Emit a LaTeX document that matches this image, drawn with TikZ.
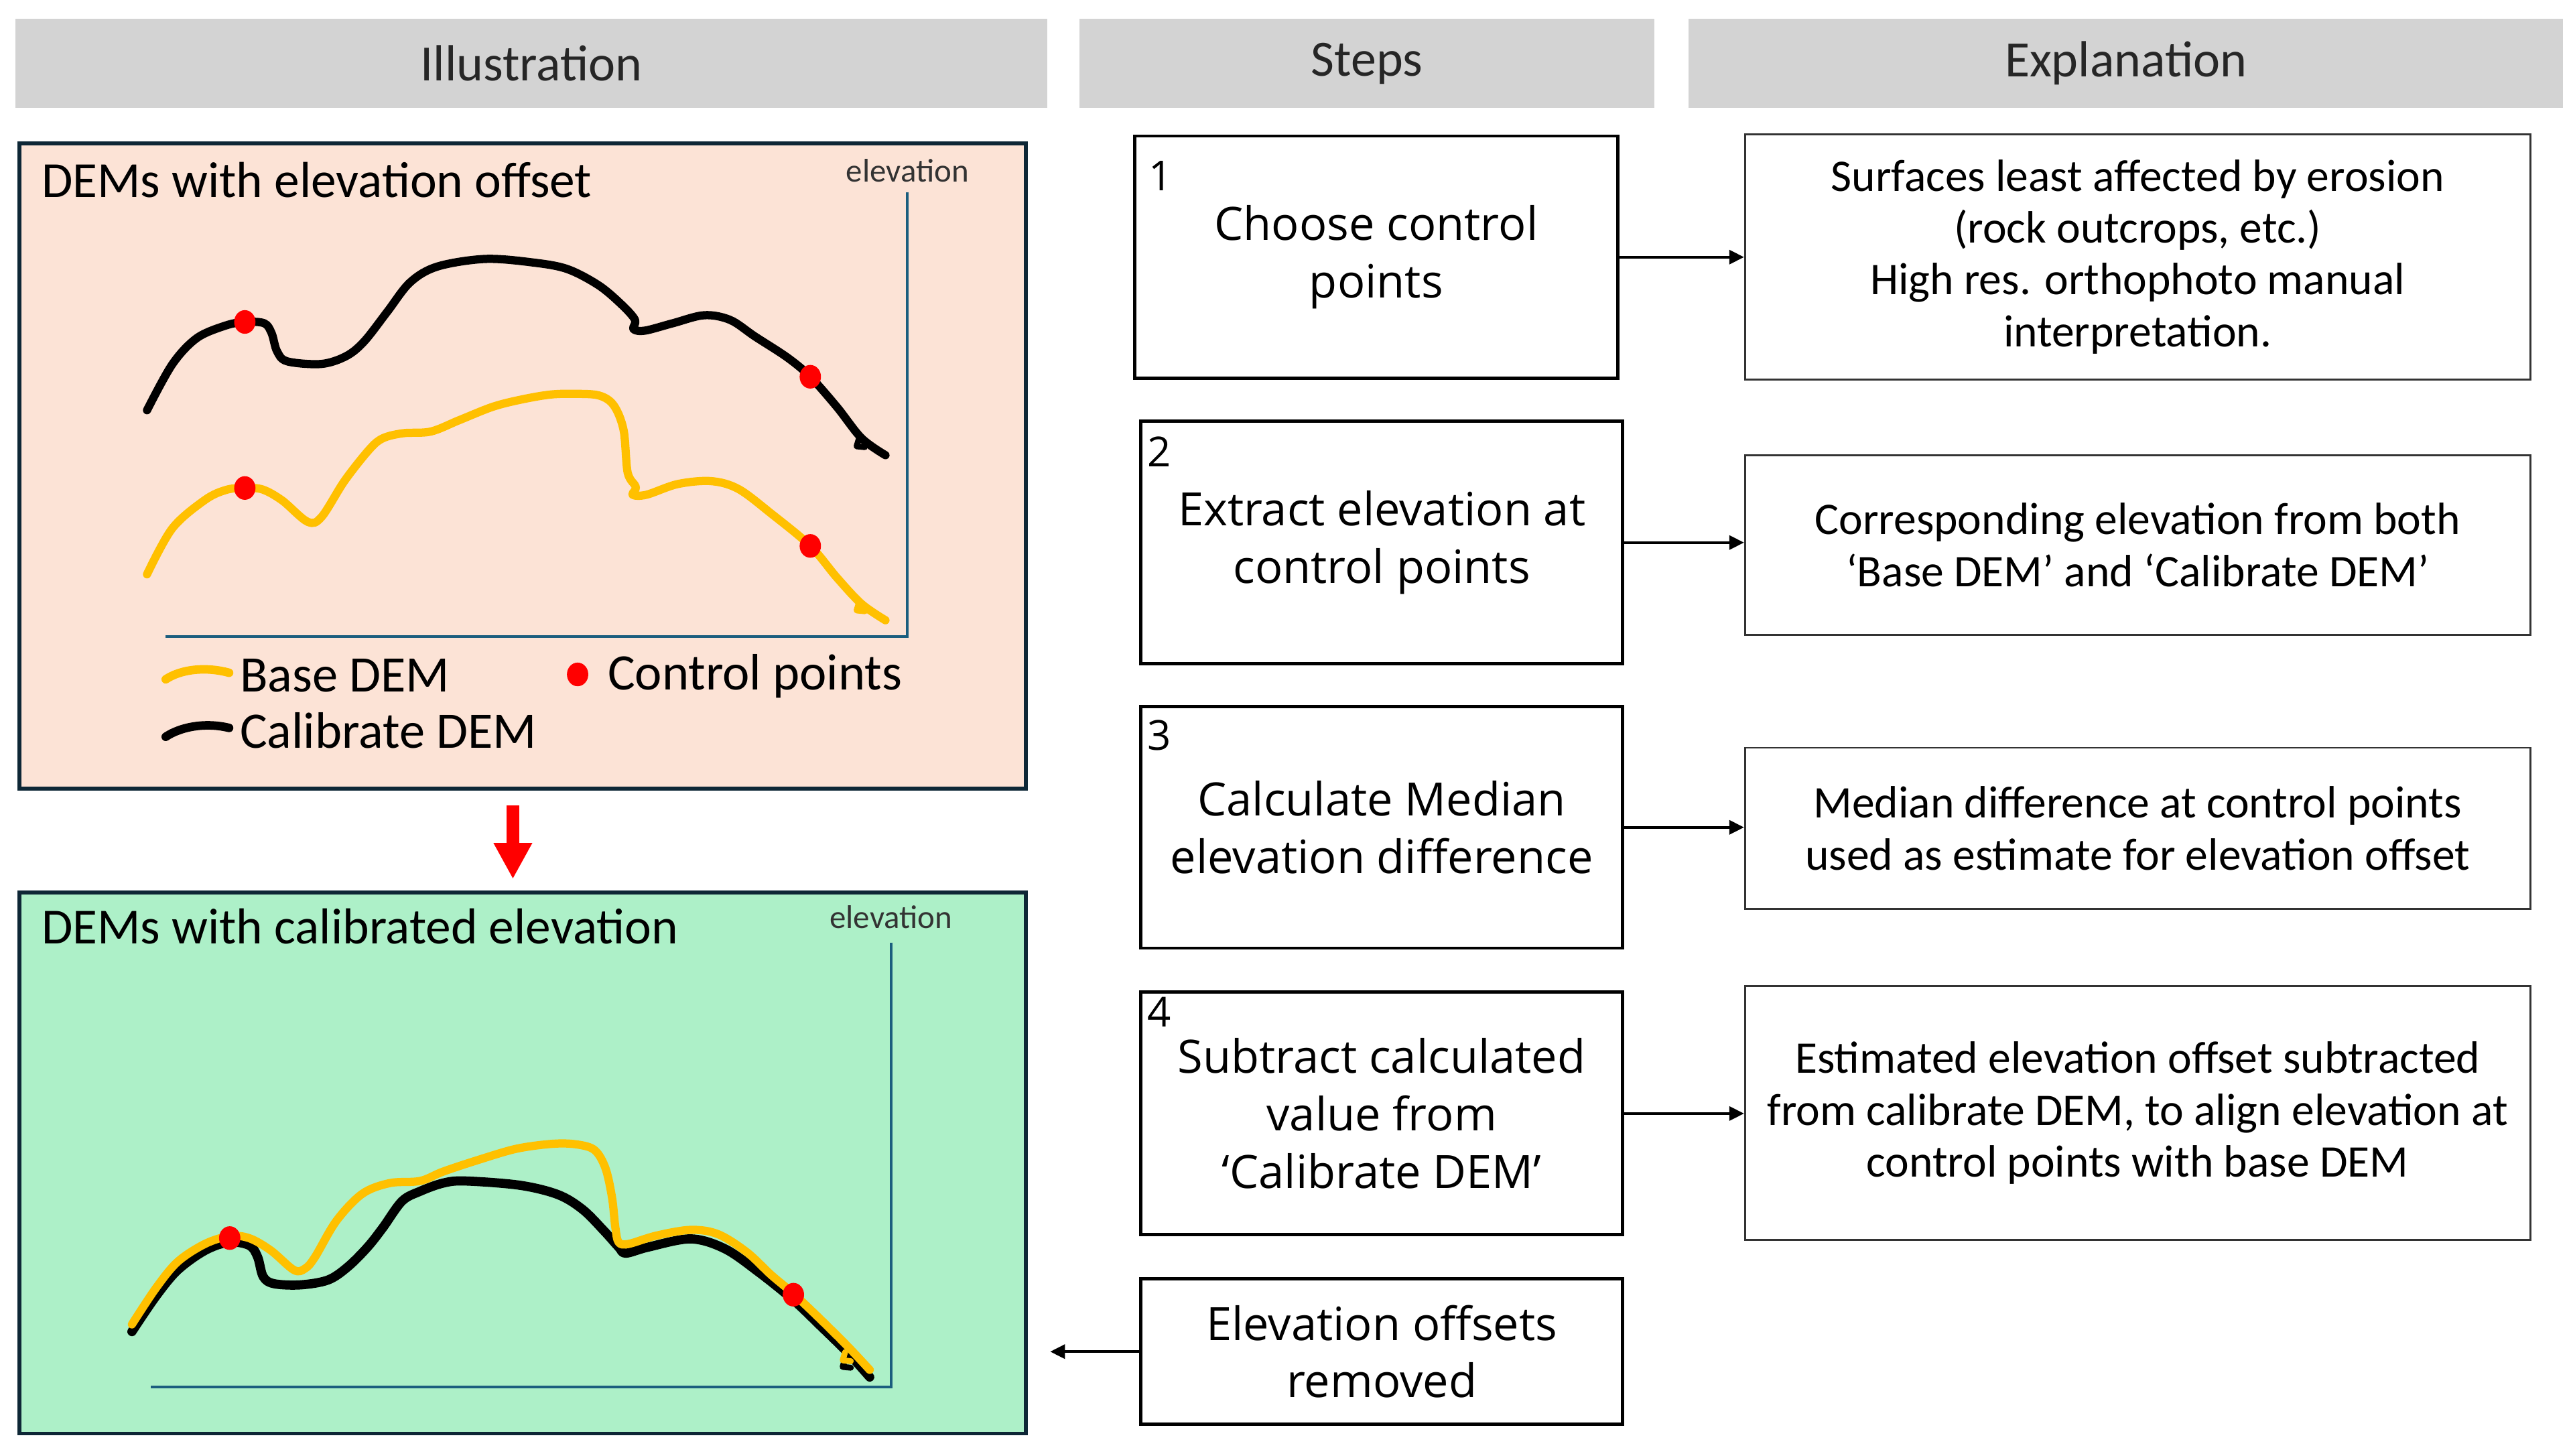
\documentclass[tikz,border=0pt]{standalone}
\usepackage{fontspec}
\setmainfont{Carlito}
\newfontfamily\stepfont{Open Sans}
\usetikzlibrary{arrows.meta}
\definecolor{hdrgray}{HTML}{D3D3D3}
\definecolor{peach}{HTML}{FCE3D6}
\definecolor{mint}{HTML}{ADF0C8}
\definecolor{panelline}{HTML}{0E2736}
\definecolor{axisblue}{HTML}{1B5E7E}
\definecolor{demyellow}{HTML}{FFC000}
\definecolor{dotred}{HTML}{FF0000}
\begin{document}
\begin{tikzpicture}[x=0.5pt,y=-0.5pt,
  header/.style={fill=hdrgray, draw=none, minimum height=27pt, inner sep=0pt, text=black!85, font=\fontsize{15.5}{18}\selectfont},
  panel/.style={draw=panelline, line width=1.2pt, minimum width=306.65pt, inner sep=0pt},
  stepbox/.style={draw=black, line width=1pt, fill=white, minimum width=146.85pt, inner sep=0pt, align=center, font=\stepfont\fontsize{14}{17.5}\selectfont},
  explbox/.style={draw=black!80, line width=0.6pt, minimum width=239.25pt, inner sep=0pt, align=center, font=\fontsize{13.8}{15.8}\selectfont},
  conn/.style={line width=0.8pt, -{Triangle[length=4.5pt,width=4.3pt]}},
  redarrow/.style={draw=dotred, line width=4pt, -{Triangle[length=11pt,width=11pt]}},
  steplabel/.style={font=\stepfont\fontsize{12.6}{14}\selectfont, inner sep=0pt, anchor=base west},
  titletext/.style={font=\fontsize{15.4}{18}\selectfont, inner sep=0pt, anchor=base west},
  axislabel/.style={font=\fontsize{10}{12}\selectfont, text=black!80, inner sep=0pt, anchor=base},
  legendtext/.style={font=\fontsize{15.6}{18}\selectfont, inner sep=0pt, anchor=base west},
  axisline/.style={draw=axisblue, line width=0.8pt},
  calibdem/.style={draw=black, line width=2.5pt, line cap=round, line join=round},
  basedem/.style={draw=demyellow, line width=2.5pt, line cap=round, line join=round},
  cpt/.style={fill=dotred}
]
\useasboundingbox (0,0) rectangle (1568,887.3);

% headers
\node[header, minimum width=314.6pt] (h1) at (323.8,38.6) {Illustration};
\node[header, minimum width=175pt] (h2) at (833,38.6) {Steps};
\node[header, minimum width=266.5pt] (h3) at (1295.5,38.6) {Explanation};

% panels
\node[panel, fill=peach, minimum height=196.5pt] (p1) at (318.35,284) {};
\node[panel, fill=mint, minimum height=164.85pt] (p2) at (318.35,708.75) {};

\node[titletext] (t1) at (25,120.3) {DEMs with elevation offset};
\node[titletext] (t2) at (25,575) {DEMs with calibrated elevation};

% top panel axes
\coordinate (a1top) at (553,117);
\coordinate (a1cor) at (553,388);
\coordinate (a1left) at (100.8,388);
\draw[axisline] (a1top) -- (a1cor) -- (a1left);
\node[axislabel] (el1) at (553,111) {elevation};

% top panel curves
\draw[calibdem] plot[smooth, tension=0.55] coordinates {(89.6,250) (105,222) (120,206) (137.5,198.4) (149.2,196.2) (161,197) (165.5,203) (168.8,214) (175,220.2) (195.8,221.8) (211,217) (222,208) (236,190) (250,172) (266.7,162.4) (295.8,157.8) (325,160) (345.8,164) (365,174) (379.2,186) (387,195) (386,200.5) (393,201.5) (410,197) (429.2,192.1) (445,195) (460,205) (480,218) (493.8,229.6) (510,248) (525,267) (539.6,277.4)};
\draw[calibdem, line width=1.8pt] (523.5,267) -- (522,272) -- (527,272.5);
\draw[basedem] plot[smooth, tension=0.55] coordinates {(89.6,350) (105,322) (125,304.6) (138,298.5) (149.2,297.4) (160,298.3) (172,305) (187.5,318) (196,315) (210,293) (225,274) (233.3,267.1) (245.8,264) (262.5,263) (280,256) (300,248) (316.7,243.7) (335,240.5) (350,240) (365,241) (374,247) (380,262) (382.5,288) (387.5,296.8) (385.5,301.5) (394,301.5) (413,295) (433.3,293.2) (450,298) (470,313) (493.8,332.7) (510,352) (525,368) (539.6,378)};
\draw[basedem, line width=1.8pt] (523.5,367) -- (522,372) -- (527,372.5);
\fill[cpt] (149.2,196.2) ellipse [x radius=3.25pt, y radius=3.6pt];
\fill[cpt] (493.8,229.6) ellipse [x radius=3.25pt, y radius=3.6pt];
\fill[cpt] (149.2,297.4) ellipse [x radius=3.25pt, y radius=3.6pt];
\fill[cpt] (493.8,332.7) ellipse [x radius=3.25pt, y radius=3.6pt];

% legend
\draw[basedem, line width=2.6pt] (101,414) .. controls (110,408) and (125,406) .. (139.6,410);
\draw[calibdem, line width=2.6pt] (101,449) .. controls (110,443) and (125,440) .. (139.6,443.6);
\node[legendtext] (lg1) at (145.8,421.7) {Base DEM};
\node[legendtext] (lg2) at (145.8,456) {Calibrate DEM};
\fill[cpt] (352,411) ellipse [x radius=3.25pt, y radius=3.6pt];
\node[legendtext] (lg3) at (370,420.2) {Control points};

% red arrow
\draw[redarrow, shorten <=4.6pt, shorten >=3.5pt] ([xshift=-2.9pt]p1.south) -- ([xshift=-2.9pt]p2.north);

% bottom panel axes
\coordinate (a2top) at (543,574.4);
\coordinate (a2cor) at (543,845.1);
\coordinate (a2left) at (91.7,845.1);
\draw[axisline] (a2top) -- (a2cor) -- (a2left);
\node[axislabel] (el2) at (543,565.9) {elevation};

% bottom panel curves
\draw[calibdem, line width=2.8pt] plot[smooth, tension=0.55] coordinates {(80.4,811.5) (95,790) (108.3,774) (125,762) (139.6,757) (152,759) (157,766) (160.4,778) (167,782.3) (183.3,783) (200,780) (212,772) (224,760) (233.3,748.2) (245,732) (256,726) (270,721) (283.3,719.7) (316.7,722.3) (340,728) (355,737) (368,750) (377,760) (381.3,763.7) (395,760) (420.9,755) (441.7,761) (462,775) (483.3,792.1) (500,808) (516.7,824.4) (530,839.2)};
\draw[calibdem, line width=1.8pt] (515,828) -- (513.5,833) -- (518.5,833.5);
\draw[basedem] plot[smooth, tension=0.55] coordinates {(80.4,807.1) (95,785) (108.3,768.9) (125,758) (140,753.3) (152,754.6) (165,762) (179.2,774) (186,773) (192,766) (205,744) (220.8,727.5) (237.5,721) (256,719.7) (270,714) (291.7,706.8) (315,700) (337.5,697) (352,697.5) (362.5,701) (369,712) (373,730) (375,748) (377.1,757.2) (383.3,758) (400,753) (420.9,749.5) (437.5,752.1) (455,763) (470,777) (483.3,788.2) (500,804) (516.7,820.6) (530,834.8)};
\draw[basedem, line width=1.8pt] (515,824) -- (513.5,829) -- (518.5,829.5);
\fill[cpt] (140,754.5) ellipse [x radius=3.25pt, y radius=3.6pt];
\fill[cpt] (483.5,789) ellipse [x radius=3.25pt, y radius=3.6pt];

% steps
\node[stepbox, minimum width=147.15pt, minimum height=73.8pt] (s1) at (838.65,156.7) {Choose control\\points};
\node[stepbox, minimum height=73.85pt] (s2) at (842.05,330.65) {Extract elevation at\\control points};
\node[stepbox, minimum height=73.6pt] (s3) at (842.05,504.2) {Calculate Median\\elevation difference};
\node[stepbox, minimum height=73.9pt] (s4) at (842.05,678.6) {Subtract calculated\\value from\\‘Calibrate DEM’};
\node[stepbox, minimum height=44.3pt] (s5) at (842.05,823.7) {Elevation offsets\\removed};

\node[steplabel] (n1) at (699.5,116.2) {1};
\node[steplabel] (n2) at (699,284.4) {2};
\node[steplabel] (n3) at (699,457.2) {3};
\node[steplabel] (n4) at (699,625.8) {4};

% explanations
\node[explbox, minimum height=74.75pt] (e1) at (1302.65,156.45) {Surfaces least affected by erosion\\(rock outcrops, etc.)\\High res. orthophoto manual\\interpretation.};
\node[explbox, minimum height=54.75pt] (e2) at (1302.65,332.15) {Corresponding elevation from both\\‘Base DEM’ and ‘Calibrate DEM’};
\node[explbox, minimum height=49.05pt] (e3) at (1302.65,504.75) {Median difference at control points\\used as estimate for elevation offset};
\node[explbox, minimum height=77.45pt] (e4) at (1302.65,678.35) {Estimated elevation offset subtracted\\from calibrate DEM, to align elevation at\\control points with base DEM};

% connectors
\draw[conn] (s1.east) -- (s1.east -| e1.west);
\draw[conn] (s2.east) -- (s2.east -| e2.west);
\draw[conn] (s3.east) -- (s3.east -| e3.west);
\draw[conn] (s4.east) -- (s4.east -| e4.west);
\coordinate (ret) at (640,823.7);
\draw[conn] (s5.west) -- (ret);
\end{tikzpicture}
\end{document}
